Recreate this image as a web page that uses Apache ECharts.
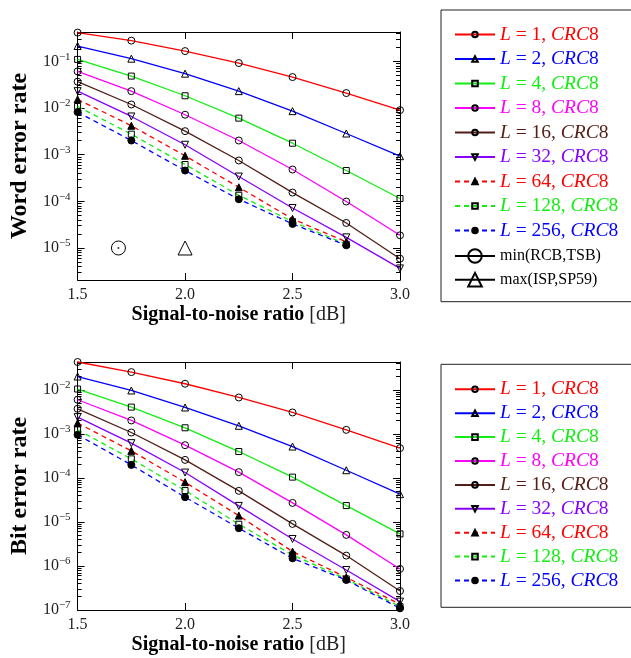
<!DOCTYPE html>
<html><head><meta charset="utf-8">
<script src="https://cdn.jsdelivr.net/npm/echarts@6/dist/echarts.min.js"></script>
<style>html,body{margin:0;padding:0;background:#fff}#c{width:631px;height:658px}</style>
</head><body><div id="c"></div>
<script>
// ---------- data ----------
const snr = [1.5, 1.75, 2.0, 2.25, 2.5, 2.75, 3.0];
const names = ['L = 1, CRC8','L = 2, CRC8','L = 4, CRC8','L = 8, CRC8','L = 16, CRC8','L = 32, CRC8','L = 64, CRC8','L = 128, CRC8','L = 256, CRC8'];
const extraNames = ['min(RCB,TSB)','max(ISP,SP59)'];

const werL1   = [0.413, 0.278, 0.166, 0.092, 0.046, 0.0209, 0.0090];
const werL2   = [0.213, 0.114, 0.0544, 0.0230, 0.00857, 0.00284, 0.000927];
const werL4   = [0.110, 0.0483, 0.0183, 0.00607, 0.00176, 0.000457, 0.000115];
const werL8   = [0.061, 0.0230, 0.00718, 0.00201, 0.00048, 0.000099, 0.0000187];
const werL16  = [0.0366, 0.0119, 0.00319, 0.00075, 0.000154, 0.0000344, 0.0000059];
const werL32  = [0.023, 0.00659, 0.00163, 0.00034, 0.000072, 0.0000169, 0.00000365];
const werL64  = [0.0153, 0.00417, 0.000946, 0.0002, 0.000042, 0.0000135];
const werL128 = [0.0108, 0.00275, 0.000615, 0.000135, 0.0000367, 0.000012];
const werL256 = [0.00817, 0.00201, 0.000457, 0.000111, 0.0000328, 0.0000114];

const berL1   = [0.0427, 0.0252, 0.0137, 0.00668, 0.00305, 0.00123, 0.000473];
const berL2   = [0.020, 0.00964, 0.00396, 0.00152, 0.000514, 0.000149, 0.0000426];
const berL4   = [0.0104, 0.00404, 0.00137, 0.000396, 0.000104, 0.0000235, 0.00000534];
const berL8   = [0.00593, 0.00201, 0.000552, 0.000135, 0.000027, 0.00000507, 0.000000855];
const berL16  = [0.0037, 0.00107, 0.000256, 0.0000507, 0.000009, 0.00000172, 0.00000027];
const berL32  = [0.00239, 0.000614, 0.000132, 0.0000231, 0.0000041, 0.00000081, 0.000000155];
const berL64  = [0.00175, 0.00041, 0.0000798, 0.0000139, 0.00000212, 0.00000055, 0.000000135];
const berL128 = [0.00123, 0.00027, 0.0000515, 0.00000886, 0.00000178, 0.000000507, 0.000000119];
const berL256 = [0.00095, 0.000197, 0.0000364, 0.0000072, 0.00000149, 0.00000048, 0.000000109];

const minRcbTsbX = [1.69], minRcbTsbY = [0.00001];
const maxIspSp59X = [2.0], maxIspSp59Y = [0.00001];

const werTicks = [1e-5, 1e-4, 1e-3, 1e-2, 1e-1];
const berTicks = [1e-7, 1e-6, 1e-5, 1e-4, 1e-3, 1e-2];

// ---------- styling ----------
const FONT = 'Liberation Serif';
const colors = ['#ff0000','#0000ff','#11ee11','#ff00ff','#521e16','#8800ff','#ff0000','#11ee11','#0000ff'];
const symbols = ['circle','triangle','rect','circle','circle','triangle','triangle','rect','circle'];
const rotates = [0,0,0,0,0,180,0,0,0];
const filled = [false,false,false,false,false,false,true,false,true];
const dashed = [false,false,false,false,false,false,true,true,true];
const symSize = [7,7,6,7,7,7,7,6,7];

function minorVals(lo, hi) {
  const out = [];
  for (let e = lo; e <= hi; e++) for (let m = 2; m <= 9; m++) out.push(m * Math.pow(10, e));
  return out;
}
function zip(xs, ys) { return ys.map((y, i) => [xs[i], y]); }
function powFmt(v) {
  const n = Math.round(Math.log10(v));
  return '{b|10}{s|\u2212' + (-n) + '}';
}
const powRich = {
  b: {fontFamily: FONT, fontSize: 16, color: '#222'},
  s: {fontFamily: FONT, fontSize: 11, color: '#222', padding: [0, 0, 9, 0]}
};

function lineSeries(gi, idx, vals) {
  return {
    type: 'line', name: names[idx], xAxisIndex: gi * 2, yAxisIndex: gi * 4,
    data: zip(snr, vals), symbol: symbols[idx], symbolRotate: rotates[idx], symbolSize: symSize[idx],
    showSymbol: true, clip: false, z: 3,
    lineStyle: {color: colors[idx], width: 1.3, type: dashed[idx] ? [5, 4] : 'solid'},
    itemStyle: {color: filled[idx] ? '#000' : 'rgba(255,255,255,0)', borderColor: '#000', borderWidth: 1},
    emphasis: {disabled: true}
  };
}

function xAxes(gi) {
  const common = {gridIndex: gi, type: 'value', min: 1.5, max: 3.0, interval: 0.5,
    splitLine: {show: false}, axisLine: {show: true, lineStyle: {color: '#000', width: 1}},
    axisTick: {show: true, inside: true, length: 7, lineStyle: {color: '#000'}}};
  return [
    Object.assign({}, common, {position: 'bottom',
      name: '{b|Signal-to-noise ratio} {n|[dB]}', nameLocation: 'middle', nameGap: 25,
      nameTextStyle: {fontFamily: FONT, fontSize: 20, color: '#000',
        rich: {b: {fontFamily: FONT, fontSize: 20, fontWeight: 'bold', color: '#000'},
               n: {fontFamily: FONT, fontSize: 20, color: '#222'}}},
      axisLabel: {show: true, margin: 7, fontFamily: FONT, fontSize: 16, color: '#222',
        formatter: v => v.toFixed(1)}}),
    Object.assign({}, common, {position: 'top', axisLabel: {show: false}})
  ];
}

function yAxes(gi, min, max, majors, minors, title) {
  const common = {gridIndex: gi, type: 'log', min: min, max: max, splitLine: {show: false}};
  const tickStyle = {color: '#000', width: 1};
  return [
    Object.assign({}, common, {position: 'left',
      name: title, nameLocation: 'middle', nameGap: 44,
      nameTextStyle: {fontFamily: FONT, fontSize: 24, fontWeight: 'bold', color: '#000'},
      axisLine: {show: true, lineStyle: {color: '#000', width: 1}},
      axisTick: {show: true, inside: true, length: 7, customValues: majors, lineStyle: tickStyle},
      axisLabel: {show: true, customValues: majors, formatter: powFmt, margin: 7, rich: powRich}}),
    Object.assign({}, common, {position: 'left', axisLine: {show: false},
      axisTick: {show: true, inside: true, length: 4, customValues: minors, lineStyle: tickStyle},
      axisLabel: {show: false}}),
    Object.assign({}, common, {position: 'right',
      axisLine: {show: true, lineStyle: {color: '#000', width: 1}},
      axisTick: {show: true, inside: true, length: 7, customValues: majors, lineStyle: tickStyle},
      axisLabel: {show: false}}),
    Object.assign({}, common, {position: 'right', axisLine: {show: false},
      axisTick: {show: true, inside: true, length: 4, customValues: minors, lineStyle: tickStyle},
      axisLabel: {show: false}})
  ];
}

const LFS = 19.5;
const legendRich = {p: {fontFamily: FONT, fontSize: 16, color: '#000'}};
colors.forEach((c, k) => {
  legendRich['i' + k] = {fontFamily: FONT, fontSize: LFS, fontStyle: 'italic', color: c};
  legendRich['n' + k] = {fontFamily: FONT, fontSize: LFS, color: c};
});
function legendFmt(name) {
  const k = names.indexOf(name);
  if (k < 0) return '{p|' + name + '}';
  const num = name.match(/L = (\d+)/)[1];
  return '{i' + k + '|L}{n' + k + '| = ' + num + ', }{i' + k + '|CRC}{n' + k + '|8}';
}

const werSets = [werL1, werL2, werL4, werL8, werL16, werL32, werL64, werL128, werL256];
const berSets = [berL1, berL2, berL4, berL8, berL16, berL32, berL64, berL128, berL256];

const series = [];
werSets.forEach((v, i) => series.push(lineSeries(0, i, v)));
berSets.forEach((v, i) => series.push(lineSeries(1, i, v)));
series.push({type: 'line', name: extraNames[0], xAxisIndex: 0, yAxisIndex: 0,
  data: zip(minRcbTsbX, minRcbTsbY), symbol: 'circle', symbolSize: 14, showSymbol: true, clip: false,
  lineStyle: {color: '#000', width: 1}, itemStyle: {color: 'rgba(255,255,255,0)', borderColor: '#000', borderWidth: 1},
  emphasis: {disabled: true}});
series.push({type: 'scatter', name: 'dot', xAxisIndex: 0, yAxisIndex: 0,
  data: zip(minRcbTsbX, minRcbTsbY), symbol: 'circle', symbolSize: 2, itemStyle: {color: '#000'},
  emphasis: {disabled: true}});
series.push({type: 'line', name: extraNames[1], xAxisIndex: 0, yAxisIndex: 0,
  data: zip(maxIspSp59X, maxIspSp59Y), symbol: 'triangle', symbolSize: 14, showSymbol: true, clip: false,
  lineStyle: {color: '#000', width: 1}, itemStyle: {color: 'rgba(255,255,255,0)', borderColor: '#000', borderWidth: 1},
  emphasis: {disabled: true}});

const option = {
  animation: false,
  backgroundColor: '#fff',
  grid: [
    {left: 74, top: 32, width: 326, height: 248},
    {left: 74, top: 362, width: 326, height: 248}
  ],
  xAxis: xAxes(0).concat(xAxes(1)),
  yAxis: yAxes(0, 2.06e-6, 0.4256, werTicks, minorVals(-6, -1), 'Word error rate')
    .concat(yAxes(1, 1e-7, 0.0427, berTicks, minorVals(-7, -2), 'Bit error rate')),
  legend: [
    {orient: 'vertical', left: 441, top: 10, padding: [14.5, 60, 61.2, 13], itemGap: 4.5,
     itemWidth: 40, itemHeight: 7, borderColor: '#222', borderWidth: 1, selectedMode: false,
     data: names.map(n => ({name: n})), formatter: legendFmt, textStyle: {fontSize: LFS, rich: legendRich}},
    {orient: 'vertical', left: 441, top: 248, padding: [0, 0, 0, 13], itemGap: 7.7,
     itemWidth: 40, itemHeight: 17, selectedMode: false,
     data: extraNames.map(n => ({name: n})), formatter: legendFmt, textStyle: {fontSize: 16, rich: legendRich}},
    {orient: 'vertical', left: 441, top: 364.3, padding: [15, 60, 16.8, 13], itemGap: 3.9,
     itemWidth: 40, itemHeight: 7, borderColor: '#222', borderWidth: 1, selectedMode: false,
     data: names.map(n => ({name: n})), formatter: legendFmt, textStyle: {fontSize: LFS, rich: legendRich}}
  ],
  series: series
};
const chart = echarts.init(document.getElementById('c'), null, {renderer: 'canvas'});
chart.setOption(option);
</script></body></html>
